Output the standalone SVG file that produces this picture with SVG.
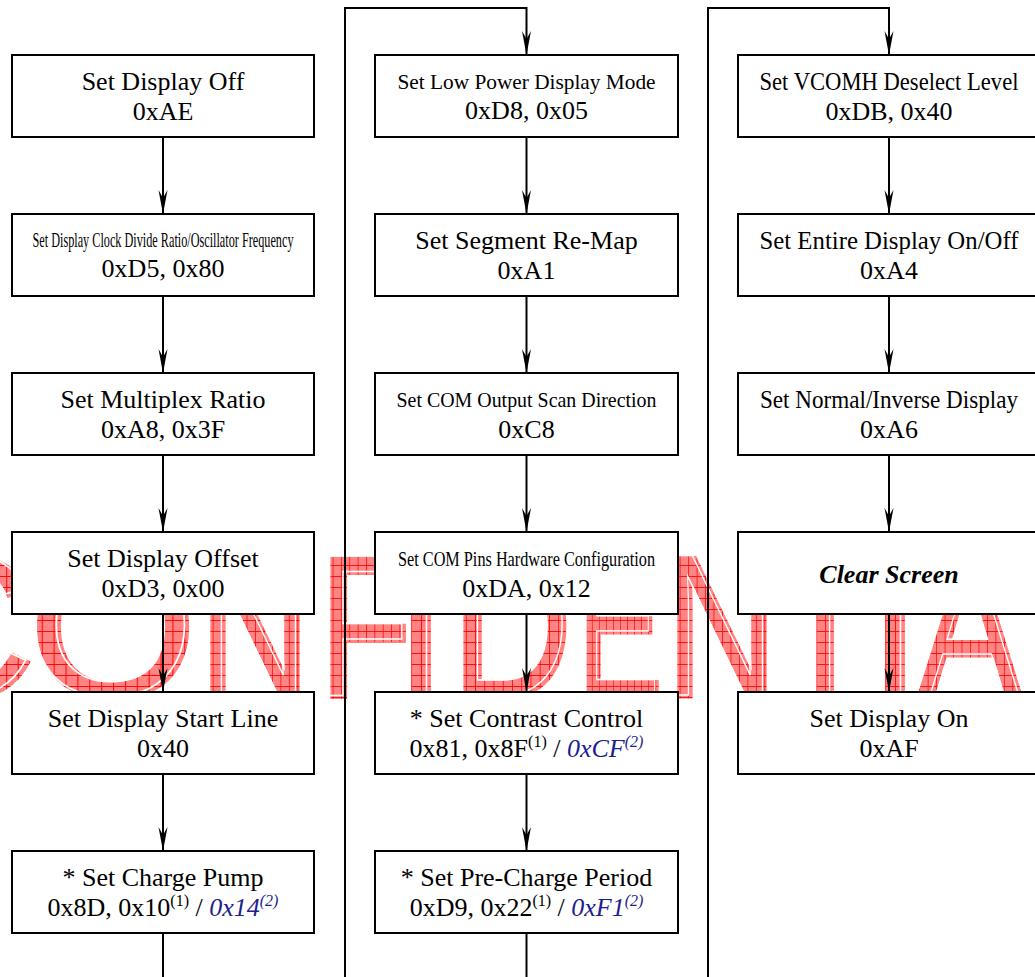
<svg xmlns="http://www.w3.org/2000/svg" xmlns:xlink="http://www.w3.org/1999/xlink" width="1035" height="977" viewBox="0 0 1035 977">
<style>
.box{fill:#fff;stroke:#000;stroke-width:2}
.t{font-family:"Liberation Serif","Times New Roman",serif;font-size:26px;text-anchor:middle;fill:#000}
.c{font-size:22px}
.sup{font-size:16px}
.blue{fill:#1e1e8c;font-style:italic}
.bi{font-weight:bold;font-style:italic}
.conn{fill:none;stroke:#000;stroke-width:2}
.wm{font-family:"Liberation Sans",Arial,sans-serif;font-size:202px;text-anchor:middle}
</style>
<defs>
<pattern id="hatch" patternUnits="userSpaceOnUse" width="11" height="11">
<rect width="11" height="11" fill="#ff8585"/>
<path d="M0.5,0V11M0,0.5H11" stroke="#ff0808" stroke-width="1"/>
</pattern>
<marker id="arr" markerUnits="userSpaceOnUse" markerWidth="26" markerHeight="12" viewBox="0 -6 26 12" refX="24" refY="0" orient="auto">
<path d="M0,-4.5L24,0L0,4.5L8,0Z" fill="#000"/>
</marker>
<g id="wmLetters" class="wm">
<text transform="translate(-40,697) scale(1.05,1)">C</text>
<text transform="translate(113,697) scale(1.08,1)">O</text>
<text transform="translate(255,697) scale(0.77,1)">N</text>
<text transform="translate(366,697) scale(0.76,1)">F</text>
<text transform="translate(421,697) scale(0.9,1)">I</text>
<text transform="translate(512,697) scale(0.84,1)">D</text>
<text transform="translate(620,697) scale(0.64,1)">E</text>
<text transform="translate(722,697) scale(0.77,1)">N</text>
<text transform="translate(825,697) scale(0.8,1)">T</text>
<text transform="translate(895,697) scale(0.9,1)">I</text>
<text transform="translate(970,697) scale(0.77,1)">A</text>
</g>
</defs>

<g id="watermark">
<use xlink:href="#wmLetters" fill="url(#hatch)" stroke="url(#hatch)" stroke-width="3"/>
<use xlink:href="#wmLetters" fill="none" stroke="#fff" stroke-width="1.6" transform="translate(-3,-2)"/>
</g>

<g id="connectors">
<path class="conn" marker-end="url(#arr)" d="M163,137V214"/>
<path class="conn" marker-end="url(#arr)" d="M163,296V373"/>
<path class="conn" marker-end="url(#arr)" d="M163,455V532"/>
<path class="conn" marker-end="url(#arr)" d="M163,614V692"/>
<path class="conn" marker-end="url(#arr)" d="M163,774V851"/>
<path class="conn" d="M163,933V977"/>
<path class="conn" marker-end="url(#arr)" d="M345,977V8H526.5V55"/>
<path class="conn" marker-end="url(#arr)" d="M526.5,137V214"/>
<path class="conn" marker-end="url(#arr)" d="M526.5,296V373"/>
<path class="conn" marker-end="url(#arr)" d="M526.5,455V532"/>
<path class="conn" marker-end="url(#arr)" d="M526.5,614V692"/>
<path class="conn" marker-end="url(#arr)" d="M526.5,774V851"/>
<path class="conn" d="M526.5,933V977"/>
<path class="conn" marker-end="url(#arr)" d="M708,977V8H889V55"/>
<path class="conn" marker-end="url(#arr)" d="M889,137V214"/>
<path class="conn" marker-end="url(#arr)" d="M889,296V373"/>
<path class="conn" marker-end="url(#arr)" d="M889,455V532"/>
<path class="conn" marker-end="url(#arr)" d="M889,614V692"/>
</g>

<g id="n1"><rect class="box" x="12" y="55" width="302" height="82"/>
<text class="t" x="163" y="90">Set Display Off</text>
<text class="t" x="163" y="120">0xAE</text></g>

<g id="n2"><rect class="box" x="12" y="214" width="302" height="82"/>
<text class="t" x="163" y="247" style="font-size:21px" textLength="261" lengthAdjust="spacingAndGlyphs">Set Display Clock Divide Ratio/Oscillator Frequency</text>
<text class="t" x="163" y="277">0xD5, 0x80</text></g>

<g id="n3"><rect class="box" x="12" y="373" width="302" height="82"/>
<text class="t" x="163" y="408">Set Multiplex Ratio</text>
<text class="t" x="163" y="438">0xA8, 0x3F</text></g>

<g id="n4"><rect class="box" x="12" y="532" width="302" height="82"/>
<text class="t" x="163" y="567">Set Display Offset</text>
<text class="t" x="163" y="597">0xD3, 0x00</text></g>

<g id="n5"><rect class="box" x="12" y="692" width="302" height="82"/>
<text class="t" x="163" y="727">Set Display Start Line</text>
<text class="t" x="163" y="757">0x40</text></g>

<g id="n6"><rect class="box" x="12" y="851" width="302" height="82"/>
<text class="t" x="163" y="886">* Set Charge Pump</text>
<text class="t" x="163" y="916">0x8D, 0x10<tspan class="sup" dy="-10">(1)</tspan><tspan dy="10"> / </tspan><tspan class="blue">0x14</tspan><tspan class="blue sup" dy="-10">(2)</tspan></text></g>

<g id="n7"><rect class="box" x="375" y="55" width="303" height="82"/>
<text class="t c" x="526.5" y="89" textLength="258" lengthAdjust="spacingAndGlyphs">Set Low Power Display Mode</text>
<text class="t" x="526.5" y="119">0xD8, 0x05</text></g>

<g id="n8"><rect class="box" x="375" y="214" width="303" height="82"/>
<text class="t" x="526.5" y="249">Set Segment Re-Map</text>
<text class="t" x="526.5" y="279">0xA1</text></g>

<g id="n9"><rect class="box" x="375" y="373" width="303" height="82"/>
<text class="t c" x="526.5" y="407" textLength="260" lengthAdjust="spacingAndGlyphs">Set COM Output Scan Direction</text>
<text class="t" x="526.5" y="438">0xC8</text></g>

<g id="n10"><rect class="box" x="375" y="532" width="303" height="82"/>
<text class="t c" x="526.5" y="566" textLength="257" lengthAdjust="spacingAndGlyphs">Set COM Pins Hardware Configuration</text>
<text class="t" x="526.5" y="597">0xDA, 0x12</text></g>

<g id="n11"><rect class="box" x="375" y="692" width="303" height="82"/>
<text class="t" x="526.5" y="727">* Set Contrast Control</text>
<text class="t" x="526.5" y="757">0x81, 0x8F<tspan class="sup" dy="-10">(1)</tspan><tspan dy="10"> / </tspan><tspan class="blue">0xCF</tspan><tspan class="blue sup" dy="-10">(2)</tspan></text></g>

<g id="n12"><rect class="box" x="375" y="851" width="303" height="82"/>
<text class="t" x="526.5" y="886">* Set Pre-Charge Period</text>
<text class="t" x="526.5" y="916">0xD9, 0x22<tspan class="sup" dy="-10">(1)</tspan><tspan dy="10"> / </tspan><tspan class="blue">0xF1</tspan><tspan class="blue sup" dy="-10">(2)</tspan></text></g>

<g id="n13"><rect class="box" x="738" y="55" width="302" height="82"/>
<text class="t" x="889" y="90" style="font-size:25px" textLength="259" lengthAdjust="spacingAndGlyphs">Set VCOMH Deselect Level</text>
<text class="t" x="889" y="120">0xDB, 0x40</text></g>

<g id="n14"><rect class="box" x="738" y="214" width="302" height="82"/>
<text class="t" x="889" y="249" style="font-size:25px" textLength="259" lengthAdjust="spacingAndGlyphs">Set Entire Display On/Off</text>
<text class="t" x="889" y="279">0xA4</text></g>

<g id="n15"><rect class="box" x="738" y="373" width="302" height="82"/>
<text class="t" x="889" y="408" style="font-size:25px" textLength="258" lengthAdjust="spacingAndGlyphs">Set Normal/Inverse Display</text>
<text class="t" x="889" y="438">0xA6</text></g>

<g id="n16"><rect class="box" x="738" y="532" width="302" height="82"/>
<text class="t bi" x="889" y="583">Clear Screen</text></g>

<g id="n17"><rect class="box" x="738" y="692" width="302" height="82"/>
<text class="t" x="889" y="727">Set Display On</text>
<text class="t" x="889" y="757">0xAF</text></g>
</svg>
